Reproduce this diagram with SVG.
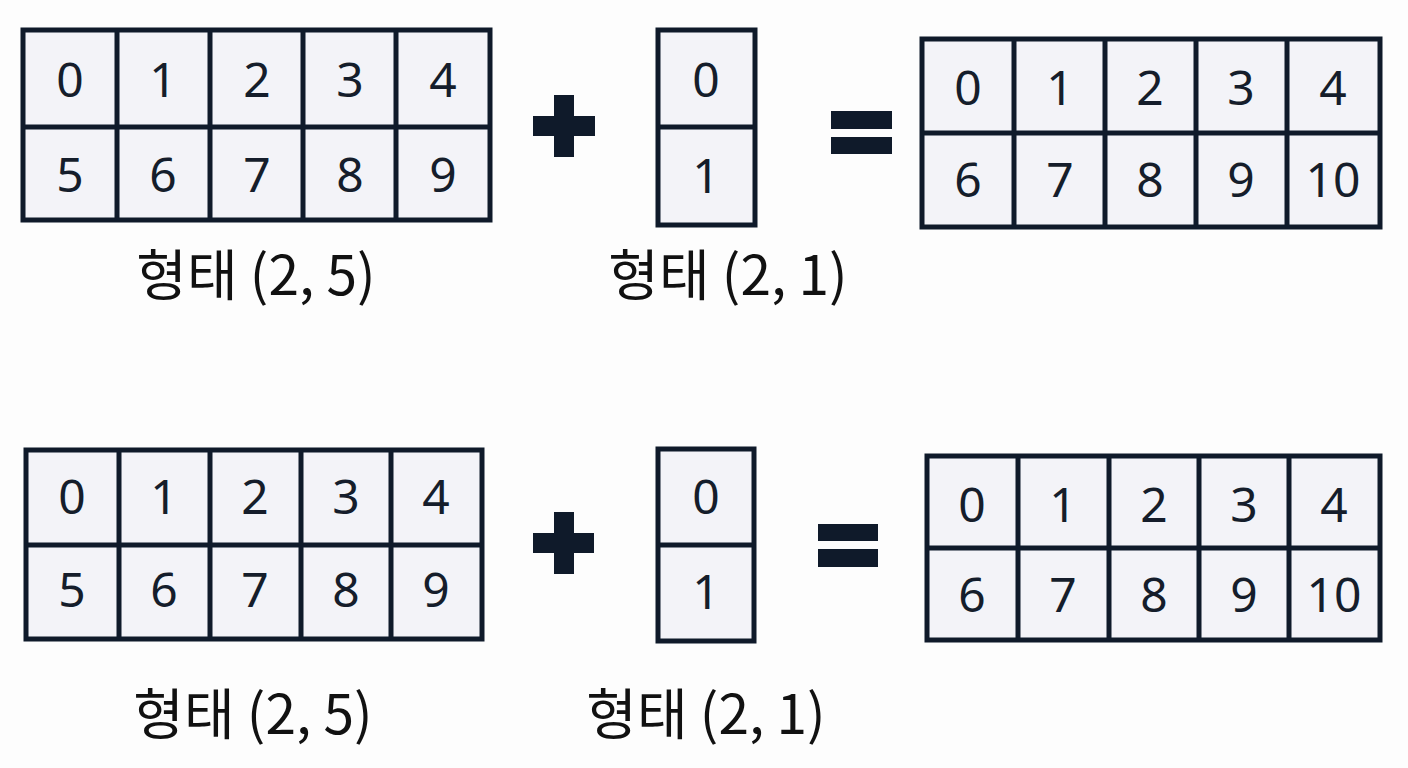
<svg xmlns="http://www.w3.org/2000/svg" width="1408" height="768" viewBox="0 0 1408 768">
<style>
.cell{fill:#f3f3f8;stroke:#0f1a2a;stroke-width:5}
.ln{stroke:#0f1a2a;stroke-width:5;fill:none}
.d{font-family:"Noto Sans","Liberation Sans",sans-serif;font-size:48px;fill:#151d2b;text-anchor:middle}
.lbl{font-family:"Noto Sans CJK KR","Noto Sans",sans-serif;font-size:55px;fill:#111111;text-anchor:middle}
.op{fill:#0f1a2a}
</style>
<rect width="1408" height="768" fill="#fdfdfd"/>

<g id="gridA">
<rect class="cell" x="23" y="30" width="467" height="190"/>
<path class="ln" d="M23 127H490M117 30V220M210 30V220M303 30V220M396 30V220"/>
<text class="d" x="70" y="97">0</text><text class="d" x="163" y="97">1</text><text class="d" x="257" y="97">2</text><text class="d" x="350" y="97">3</text><text class="d" x="443" y="97">4</text>
<text class="d" x="70" y="192">5</text><text class="d" x="163" y="192">6</text><text class="d" x="257" y="192">7</text><text class="d" x="350" y="192">8</text><text class="d" x="443" y="192">9</text>
</g>
<text id="labelA" class="lbl" x="256" y="295">형태 (2, 5)</text>

<g id="plusTop"><rect class="op" x="533" y="116" width="62" height="20"/><rect class="op" x="554" y="95" width="20" height="62"/></g>

<g id="gridB">
<rect class="cell" x="658" y="30" width="97" height="195"/>
<path class="ln" d="M658 127H755"/>
<text class="d" x="706" y="97">0</text><text class="d" x="706" y="193">1</text>
</g>
<text id="labelB" class="lbl" x="728" y="295">형태 (2, 1)</text>

<g id="eqTop"><rect class="op" x="831" y="111" width="61" height="18"/><rect class="op" x="831" y="137" width="61" height="17"/></g>

<g id="gridC">
<rect class="cell" x="922" y="39" width="458" height="188"/>
<path class="ln" d="M922 133H1380M1014 39V227M1105 39V227M1196 39V227M1287 39V227"/>
<text class="d" x="968" y="105">0</text><text class="d" x="1060" y="105">1</text><text class="d" x="1150" y="105">2</text><text class="d" x="1241" y="105">3</text><text class="d" x="1333" y="105">4</text>
<text class="d" x="968" y="197">6</text><text class="d" x="1060" y="197">7</text><text class="d" x="1150" y="197">8</text><text class="d" x="1241" y="197">9</text><text class="d" x="1333" y="197">10</text>
</g>

<g id="gridD">
<rect class="cell" x="26" y="450" width="456" height="189"/>
<path class="ln" d="M26 545H482M119 450V639M210 450V639M301 450V639M391 450V639"/>
<text class="d" x="72" y="514">0</text><text class="d" x="164" y="514">1</text><text class="d" x="255" y="514">2</text><text class="d" x="346" y="514">3</text><text class="d" x="436" y="514">4</text>
<text class="d" x="72" y="607">5</text><text class="d" x="164" y="607">6</text><text class="d" x="255" y="607">7</text><text class="d" x="346" y="607">8</text><text class="d" x="436" y="607">9</text>
</g>
<text id="labelD" class="lbl" x="253" y="734">형태 (2, 5)</text>

<g id="plusBottom"><rect class="op" x="533" y="533" width="61" height="20"/><rect class="op" x="554" y="512" width="20" height="62"/></g>

<g id="gridE">
<rect class="cell" x="658" y="449" width="96" height="192"/>
<path class="ln" d="M658 545H754"/>
<text class="d" x="706" y="514">0</text><text class="d" x="706" y="609">1</text>
</g>
<text id="labelE" class="lbl" x="706" y="734">형태 (2, 1)</text>

<g id="eqBottom"><rect class="op" x="818" y="524" width="60" height="17"/><rect class="op" x="818" y="549" width="60" height="18"/></g>

<g id="gridF">
<rect class="cell" x="927" y="456" width="453" height="184"/>
<path class="ln" d="M927 548H1380M1018 456V640M1109 456V640M1199 456V640M1289 456V640"/>
<text class="d" x="972" y="522">0</text><text class="d" x="1063" y="522">1</text><text class="d" x="1154" y="522">2</text><text class="d" x="1244" y="522">3</text><text class="d" x="1334" y="522">4</text>
<text class="d" x="972" y="612">6</text><text class="d" x="1063" y="612">7</text><text class="d" x="1154" y="612">8</text><text class="d" x="1244" y="612">9</text><text class="d" x="1334" y="612">10</text>
</g>
</svg>
